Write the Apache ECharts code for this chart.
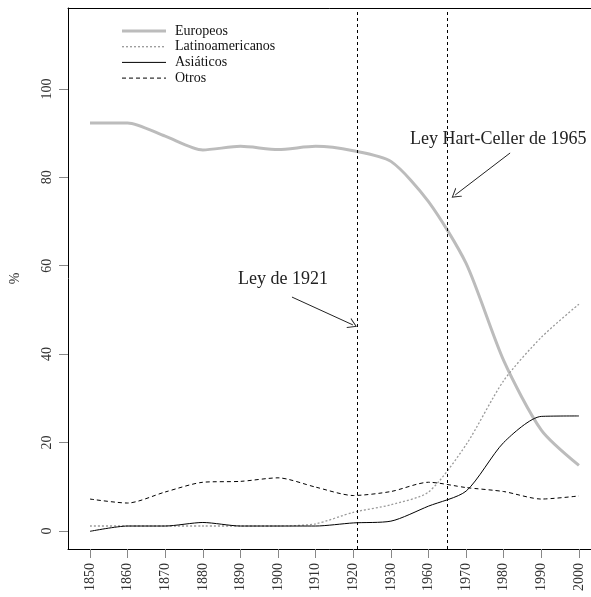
<!DOCTYPE html>
<html>
<head>
<meta charset="utf-8">
<script src="https://cdn.jsdelivr.net/npm/echarts@6/dist/echarts.min.js"></script>
<style>
  html, body { margin: 0; padding: 0; background: #fff; }
  #chart { width: 591px; height: 597px; }
</style>
</head>
<body>
<div id="chart"></div>
<script>
// años (eje x, espaciados de forma uniforme)
const years = ['1850', '1860', '1870', '1880', '1890', '1900', '1910', '1920', '1930', '1960', '1970', '1980', '1990', '2000'];
const yTicks = [0, 20, 40, 60, 80, 100];

// porcentajes por origen
const europeos = [92.3, 92.3, 89.3, 86.2, 87.0, 86.3, 87.0, 86.0, 83.6, 74.5, 60.5, 38.5, 22.8, 14.8];
const latinoamericanos = [1.1, 1.1, 1.1, 1.1, 1.1, 1.1, 1.6, 4.2, 5.9, 8.8, 19.5, 34.0, 43.8, 51.3];
const asiaticos = [-0.1, 1.1, 1.1, 1.9, 1.1, 1.1, 1.1, 1.8, 2.2, 5.6, 9.0, 20.0, 25.9, 26.0];
const otros = [7.2, 6.3, 8.8, 11.0, 11.2, 12.0, 9.9, 8.0, 8.9, 11.0, 9.8, 8.9, 7.2, 7.9];

// leyes (posición en el eje de índices: 1921 y 1965)
const leyes = [7.1, 9.5];
const flecha1921 = [[5.37, 52.9], [6.99, 46.6]];
const flecha1965 = [[11.17, 85.5], [9.71, 76.0]];

const idx = years.map((_, i) => i);
const pares = arr => arr.map((v, i) => [i, v]);

const serif = '"Liberation Serif", "DejaVu Serif", serif';
const chevron = 'path://M5,0 L10,10 L9,10 L5,2 L1,10 L0,10 Z';

// estilos de línea de cada serie
const estilos = {
  'Europeos': { stroke: '#bcbcbc', lineWidth: 3 },
  'Latinoamericanos': { stroke: '#9a9a9a', lineWidth: 1.3, lineDash: [2, 2] },
  'Asiáticos': { stroke: '#000', lineWidth: 1 },
  'Otros': { stroke: '#000', lineWidth: 1, lineDash: [4, 3] }
};
const toLineStyle = s => ({ color: s.stroke, width: s.lineWidth, type: s.lineDash || 'solid' });

// leyenda dibujada a mano (como en R)
const leyenda = [];
Object.keys(estilos).forEach((nombre, i) => {
  const y = 31 + i * 15.7;
  leyenda.push({
    type: 'line', silent: true,
    shape: { x1: 122, y1: y, x2: 166, y2: y },
    style: Object.assign({}, estilos[nombre])
  });
  leyenda.push({
    type: 'text', silent: true, x: 175, y: y,
    style: { text: nombre, font: '14px ' + serif, fill: '#111', verticalAlign: 'middle' }
  });
});

let chart = echarts.init(document.getElementById('chart'));
let option = {
  animation: false,
  backgroundColor: '#fff',
  textStyle: { fontFamily: serif },
  grid: {
    left: 68, right: -9, top: 8, bottom: 48,
    outerBoundsMode: 'none',
    containLabel: false,
    show: false
  },
  xAxis: [
    {
      type: 'value',
      min: -0.585, max: 13.56,
      splitLine: { show: false },
      axisLine: { show: true, onZero: false, lineStyle: { color: '#000', width: 1 } },
      axisTick: { show: true, length: 9, lineStyle: { color: '#888' }, customValues: idx },
      axisLabel: {
        rotate: 90, fontSize: 14, color: '#333', fontFamily: serif, margin: 14,
        customValues: idx,
        formatter: v => years[Math.round(v)]
      }
    },
    {
      // solo el borde superior del recuadro
      type: 'value', position: 'top',
      min: -0.585, max: 13.56,
      splitLine: { show: false },
      axisLine: { show: true, onZero: false, lineStyle: { color: '#000', width: 1 } },
      axisTick: { show: false },
      axisLabel: { show: false }
    }
  ],
  yAxis: {
    type: 'value',
    min: -4.1, max: 118.3,
    name: '%',
    nameLocation: 'middle',
    nameRotate: 90,
    nameGap: 46,
    nameTextStyle: { fontFamily: serif, fontSize: 14, color: '#333' },
    splitLine: { show: false },
    axisLine: { show: true, onZero: false, lineStyle: { color: '#000', width: 1 } },
    axisTick: { show: true, length: 9, lineStyle: { color: '#888' }, customValues: yTicks },
    axisLabel: {
      rotate: 90, fontSize: 14, color: '#333', fontFamily: serif, margin: 14,
      customValues: yTicks
    }
  },
  series: [
    {
      name: 'Europeos', type: 'line', data: pares(europeos),
      symbol: 'none', smooth: 0.25,
      lineStyle: toLineStyle(estilos['Europeos']),
      markLine: {
        silent: true, symbol: ['none', 'none'],
        label: { show: false },
        lineStyle: { color: '#000', width: 1, type: [3, 3] },
        data: leyes.map(x => ({ xAxis: x }))
      }
    },
    {
      name: 'Latinoamericanos', type: 'line', data: pares(latinoamericanos),
      symbol: 'none', smooth: 0.25,
      lineStyle: toLineStyle(estilos['Latinoamericanos'])
    },
    {
      name: 'Asiáticos', type: 'line', data: pares(asiaticos),
      symbol: 'none', smooth: 0.25,
      lineStyle: toLineStyle(estilos['Asiáticos'])
    },
    {
      name: 'Otros', type: 'line', data: pares(otros),
      symbol: 'none', smooth: 0.25,
      lineStyle: toLineStyle(estilos['Otros']),
      markLine: {
        silent: true,
        symbol: ['none', chevron],
        symbolSize: [11, 9],
        label: { show: false },
        lineStyle: { color: '#222', width: 1, type: 'solid' },
        data: [
          [{ coord: flecha1921[0] }, { coord: flecha1921[1] }],
          [{ coord: flecha1965[0] }, { coord: flecha1965[1] }]
        ]
      }
    }
  ],
  graphic: leyenda.concat([
    {
      type: 'text', left: 238, top: 270,
      style: { text: 'Ley de 1921', font: '18px ' + serif, fill: '#222' }
    },
    {
      type: 'text', left: 410, top: 130,
      style: { text: 'Ley Hart-Celler de 1965', font: '18px ' + serif, fill: '#222' }
    }
  ])
};
chart.setOption(option);
</script>
</body>
</html>
